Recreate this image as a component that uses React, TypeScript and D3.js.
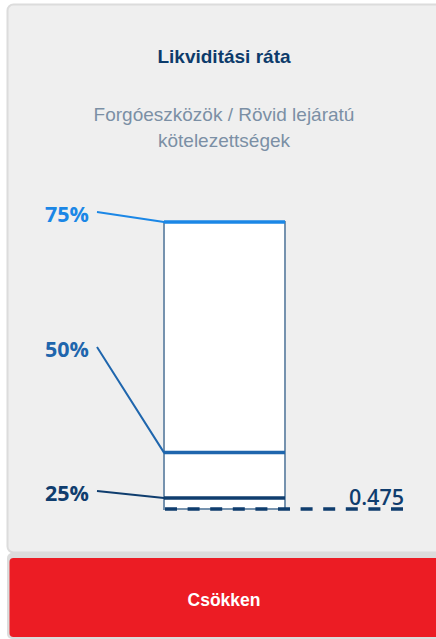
import React, { useEffect, useRef } from "react";
import * as d3 from "d3";

// percentile markers and the company's own value
const percentileLabels = ["75%", "50%", "25%"];
const percentileValues = [3.35, 1.04, 0.585];
const percentileColors = ["#1b87e6", "#1f66ad", "#0f3d6e"];
const companyValue = 0.475;
const companyLabel = "0.475";
const title = "Likviditási ráta";
const subtitle = ["Forgóeszközök / Rövid lejáratú", "kötelezettségek"];
const verdict = "Csökken";

const W = 436;
const H = 639;

const App = () => {
  const ref = useRef<SVGSVGElement | null>(null);

  useEffect(() => {
    const svg = d3.select(ref.current);
    svg.selectAll("*").remove();

    // card
    svg.append("rect")
      .attr("x", 7.5).attr("y", 4.5).attr("width", 440).attr("height", 548)
      .attr("rx", 6).attr("fill", "#efefef")
      .attr("stroke", "#dcdcdc").attr("stroke-width", 2);

    svg.append("text")
      .attr("x", 224).attr("y", 63)
      .attr("text-anchor", "middle")
      .attr("font-family", "'Liberation Sans', Arial, sans-serif")
      .attr("font-weight", 700).attr("font-size", 19)
      .attr("fill", "#0d3b6b")
      .text(title);

    subtitle.forEach((s, i) => {
      svg.append("text")
        .attr("x", 224).attr("y", 121 + i * 26)
        .attr("text-anchor", "middle")
        .attr("font-family", "'Liberation Sans', Arial, sans-serif")
        .attr("font-size", 19)
        .attr("fill", "#7b8fa5")
        .text(s);
    });

    const y = d3.scaleLinear()
      .domain([companyValue, percentileValues[0]])
      .range([509, 222]);
    const x0 = 164, x1 = 285;
    const labelY = [215, 350, 494];

    // bar
    svg.append("rect")
      .attr("x", x0).attr("y", y(percentileValues[0]))
      .attr("width", x1 - x0)
      .attr("height", y(companyValue) - y(percentileValues[0]))
      .attr("fill", "#ffffff")
      .attr("stroke", "#7592ae").attr("stroke-width", 2);

    // company value dashed line
    svg.append("line")
      .attr("x1", x0 + 1).attr("x2", 404)
      .attr("y1", y(companyValue)).attr("y2", y(companyValue))
      .attr("stroke", "#0f3d6e").attr("stroke-width", 3.5)
      .attr("stroke-dasharray", "12 10.6");

    svg.append("text")
      .attr("x", 404).attr("y", 505)
      .attr("text-anchor", "end")
      .attr("font-family", "'Open Sans', sans-serif")
      .attr("font-weight", 600).attr("font-size", 21.5)
      .attr("fill", "#0f3d6e")
      .text(companyLabel);

    percentileLabels.forEach((lab, i) => {
      const c = percentileColors[i];
      const vy = y(percentileValues[i]);
      svg.append("path")
        .attr("d", d3.line()([[97, labelY[i] - 3], [x0, vy], [x1, vy]]))
        .attr("fill", "none")
        .attr("stroke", c)
        .attr("stroke-width", 2)
        .attr("stroke-linejoin", "round");
      svg.append("line")
        .attr("x1", x0).attr("x2", x1).attr("y1", vy).attr("y2", vy)
        .attr("stroke", c).attr("stroke-width", 3.5);
      svg.append("text")
        .attr("x", 45).attr("y", labelY[i] + 7)
        .attr("font-family", "'Open Sans', sans-serif")
        .attr("font-weight", 700).attr("font-size", 21.5)
        .attr("fill", c)
        .text(lab);
    });

    // verdict button
    svg.append("rect")
      .attr("x", 7).attr("y", 553).attr("width", 440).attr("height", 86)
      .attr("rx", 5).attr("fill", "#dcdcdc");
    svg.append("rect")
      .attr("x", 9.5).attr("y", 558).attr("width", 440).attr("height", 79)
      .attr("rx", 4).attr("fill", "#ec1c24");
    svg.append("text")
      .attr("x", 224).attr("y", 606)
      .attr("text-anchor", "middle")
      .attr("font-family", "'Liberation Sans', Arial, sans-serif")
      .attr("font-weight", 700).attr("font-size", 17.5)
      .attr("fill", "#ffffff")
      .text(verdict);
  }, []);

  return (
    <svg
      ref={ref}
      width={W}
      height={H}
      style={{ position: "absolute", left: 0, top: 0, display: "block" }}
    />
  );
};

export default App;
